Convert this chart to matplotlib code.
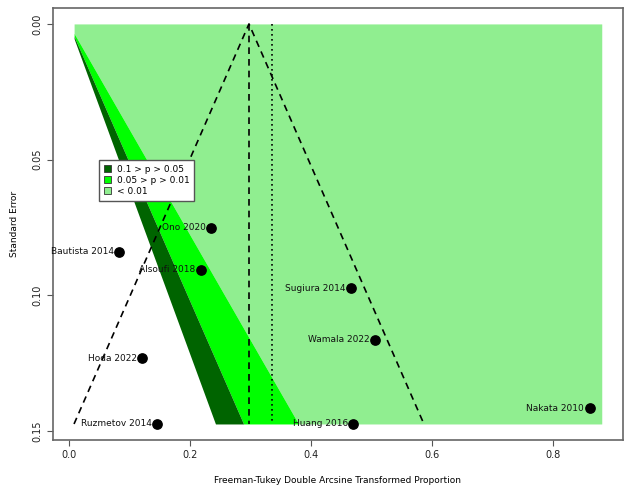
import numpy as np
import matplotlib
matplotlib.use('Agg')
from matplotlib import pyplot as plt
from matplotlib.patches import Patch

# study data: transformed proportion and standard error
studies = ['Ono 2020', 'Bautista 2014', 'Alsoufi 2018', 'Hoda 2022', 'Ruzmetov 2014',
           'Sugiura 2014', 'Wamala 2022', 'Nakata 2010', 'Huang 2016']
yi = [0.236, 0.0835, 0.2185, 0.122, 0.1463, 0.4664, 0.5066, 0.861, 0.4707]
sei = [0.0752, 0.0840, 0.0906, 0.1233, 0.1475, 0.0974, 0.1164, 0.1417, 0.1475]

est = 0.298       # pooled estimate (dashed)
est2 = 0.336      # dotted reference line
refline = 0.0     # contour centre

legend_labels = ['0.1 > p > 0.05', '0.05 > p > 0.01', '< 0.01']
cols = ['#006400', '#00FF00', '#90EE90']
zvals = [1.645, 1.96, 2.576]

# shaded rectangle limits (like metafor xlim / ylim)
xl = (0.009, 0.881)
se_max = 0.1475

fig = plt.figure(figsize=(6.27, 4.86), dpi=100)
ax = fig.add_axes([0.0845, 0.0947, 0.909, 0.889])

se = np.linspace(0, se_max, 300)
b90 = np.clip(refline + zvals[0] * se, xl[0], xl[1])
b95 = np.clip(refline + zvals[1] * se, xl[0], xl[1])
b99 = np.clip(refline + zvals[2] * se, xl[0], xl[1])
ax.fill_betweenx(se, b99, xl[1], color=cols[2], lw=0)
ax.fill_betweenx(se, b95, b99, color=cols[1], lw=0)
ax.fill_betweenx(se, b90, b95, color=cols[0], lw=0)

# funnel lines
ax.plot([est - 1.96 * se_max, est, est + 1.96 * se_max], [se_max, 0, se_max],
        color='black', ls=(0, (4, 3)), lw=1.2)
ax.plot([est, est], [0, se_max], color='black', ls=(0, (4, 3)), lw=1.2)
ax.plot([est2, est2], [0, se_max], color='black', ls=(0, (1, 2)), lw=1.2)

ax.scatter(yi, sei, s=45, color='black', zorder=5)
for name, x, y in zip(studies, yi, sei):
    ax.text(x - 0.009, y, name, ha='right', va='center', fontsize=6.5, color='#111111', zorder=6)

ax.set_xlim(-0.0259, 0.916)
ax.set_ylim(0.1534, -0.0059)
ax.set_xticks([0.0, 0.2, 0.4, 0.6, 0.8])
ax.set_xticklabels(['0.0', '0.2', '0.4', '0.6', '0.8'])
ax.set_yticks([0.00, 0.05, 0.10, 0.15])
ax.set_yticklabels(['0.00', '0.05', '0.10', '0.15'], rotation=90, va='center')
ax.tick_params(labelsize=7, length=4, color='#555555', labelcolor='#222222')
for sp in ax.spines.values():
    sp.set_color('#666666')
    sp.set_linewidth(1.2)

ax.set_xlabel('Freeman-Tukey Double Arcsine Transformed Proportion', fontsize=6.5, labelpad=11)
ax.set_ylabel('Standard Error', fontsize=6.5, labelpad=10)

handles = [Patch(facecolor=c, edgecolor='#333333', lw=0.6) for c in cols]
leg = ax.legend(handles, legend_labels, loc='upper left', bbox_to_anchor=(0.081, 0.648),
                fontsize=6.5, frameon=True, fancybox=False, framealpha=1,
                handlelength=0.8, handleheight=0.8,
                borderpad=0.55, labelspacing=0.2, handletextpad=0.6, borderaxespad=0)
leg.get_frame().set_edgecolor('#555555')
leg.get_frame().set_linewidth(1.0)
leg.set_zorder(10)

fig.savefig('out.png', dpi=100)
